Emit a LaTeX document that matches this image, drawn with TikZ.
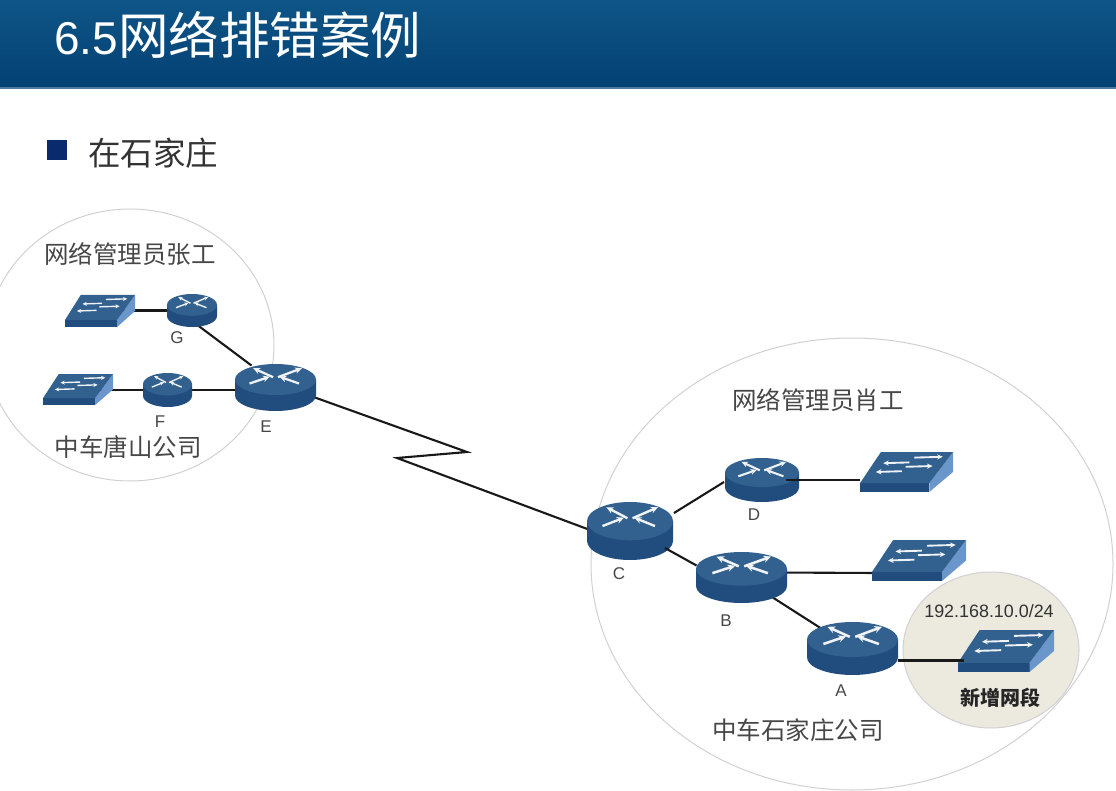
\documentclass[tikz,border=0pt]{standalone}
\usepackage{fontspec}
\setmainfont{Liberation Sans}
\newfontfamily\cjk{Noto Sans CJK SC}
\usetikzlibrary{calc,arrows.meta}
\pgfdeclarelayer{back}
\pgfdeclarelayer{icons}
\pgfsetlayers{back,icons,main}
\definecolor{bodyblue}{HTML}{214D7E}
\definecolor{topblue}{HTML}{33618F}
\definecolor{sideblue}{HTML}{6A96CC}
\definecolor{barblue}{HTML}{034073}
\definecolor{barlight}{HTML}{0F5587}
\definecolor{beige}{HTML}{ECE9DF}
\definecolor{bulletblue}{HTML}{0A2A6E}
\tikzset{
  iconbox/.style={inner sep=0pt,outer sep=0pt,draw=none,fill=none},
  wire/.style={draw=black!90,line width=2.1pt},
  zone/.style={draw=black!18,line width=1pt},
  glyph/.style={white!92!topblue,-{Stealth[length=0pt 3 0,width=0pt 2.8 0]}},
  lbl/.style={text=black!72,inner sep=0pt},
  letter/.style={text=black!72,inner sep=0pt,font=\fontsize{17}{19}\selectfont},
}
% name, x, y, width, height
\newcommand{\routericon}[5]{%
  \node[iconbox,minimum width=#4pt,minimum height=#5pt] (#1) at (#2,#3) {};
  \begin{pgfonlayer}{icons}
  \begin{scope}[shift={(#1.center)},x=#4pt/2,y=-#5pt/2]
    \fill[bodyblue] (-1,-.34) -- (-1,.34) arc[start angle=180,end angle=0,x radius=1,y radius=.66] -- (1,-.34) -- cycle;
    \fill[topblue] (0,-.34) ellipse[x radius=1,y radius=.66];
    \draw[glyph,line width=#4pt/36] (-.06,-.44) -- (-.55,-.82);
    \draw[glyph,line width=#4pt/36] (.06,-.44) -- (.65,-.82);
    \draw[glyph,line width=#4pt/36] (-.64,-.17) -- (-.14,-.46);
    \draw[glyph,line width=#4pt/36] (.58,-.17) -- (.1,-.46);
  \end{scope}
  \end{pgfonlayer}
}
\newcommand{\switchicon}[5]{%
  \node[iconbox,minimum width=#4pt,minimum height=#5pt] (#1) at (#2,#3) {};
  \begin{pgfonlayer}{icons}
  \begin{scope}[shift={(#1.center)},x=#4pt/2,y=-#5pt/2]
    \fill[bodyblue] (-1,.56) -- (.49,.56) -- (.49,1) -- (-1,1) -- cycle;
    \fill[sideblue] (.49,.56) -- (1,-1) -- (1,0) -- (.49,1) -- cycle;
    \fill[topblue] (-1,.56) -- (-.55,-1) -- (1,-1) -- (.49,.56) -- cycle;
    \draw[glyph,line width=#4pt/50] (.06,-.48) -- (-.5,-.44);
    \draw[glyph,line width=#4pt/50] (.17,-.72) -- (.78,-.76);
    \draw[glyph,line width=#4pt/50] (-.1,-.04) -- (-.66,0);
    \draw[glyph,line width=#4pt/50] (-.02,-.26) -- (.56,-.3);
  \end{scope}
  \end{pgfonlayer}
}
\begin{document}
\begin{tikzpicture}[x=1pt,y=-1pt]
\useasboundingbox (0,0) rectangle (1116,791);
\begin{pgfonlayer}{back}
\fill[white] (0,0) rectangle (1116,791);
% header
\shade[top color=barlight,bottom color=barblue] (0,0) rectangle (1116,88);
\fill[barblue!70!white] (0,87.5) rectangle (1116,89);
% zones
\draw[zone] (130,345) ellipse[x radius=144,y radius=136];
\draw[zone] (852,564) ellipse[x radius=261,y radius=226];
\draw[zone,fill=beige] (991,650) ellipse[x radius=88,y radius=78];
\end{pgfonlayer}
\node[anchor=west,inner sep=0pt,text=white] (title) at (54,35) {\fontsize{46}{50}\selectfont 6.5{\cjk\fontsize{50.5}{50}\selectfont 网络排错案例}};
\fill[bulletblue] (47,140) rectangle (67,160);
\node[anchor=west,inner sep=0pt,text=black!80] (topic) at (88,153) {\cjk\fontsize{32.5}{36}\selectfont 在石家庄};
% devices
\routericon{E}{275.5}{387.5}{81}{47}
\routericon{F}{167.5}{390}{49}{34}
\routericon{G}{192}{310.5}{50}{33}
\switchicon{swG}{100}{311}{70}{32}
\switchicon{swF}{78}{389.5}{70}{31}
\routericon{C}{630}{531}{86}{58}
\routericon{D}{762}{480}{74}{44}
\routericon{B}{741.5}{577.5}{91}{51}
\routericon{A}{852.5}{648.5}{91}{53}
\switchicon{swD}{906.5}{472}{93}{40}
\switchicon{swB}{919}{560.5}{94}{41}
\switchicon{swA}{1006}{651}{96}{42}
% links
\coordinate (z1) at (467,452);
\coordinate (z2) at (397,458);
\begin{pgfonlayer}{back}
\draw[wire] (swG.center |- G.center) -- (G.center);
\draw[wire] (swF.center |- F.center) -- (F.center) -- (F.center -| E.center);
\draw[wire] ($(G.center)+(6,15)$) -- ($(E.center)+(-24,-22)$);
\draw[wire] ($(E.center)+(38,9.5)$) -- (z1) -- (z2) -- ($(C.center)+(-40,-1)$);
\draw[wire] ($(C.center)+(44,-18)$) -- ($(D.center)+(-38,2)$);
\draw[wire] ($(B.center)+(30,-5)$) -- ($(swB.west)+(6,12.5)$);
\draw[wire] (B.center) -- (A.center);
\end{pgfonlayer}
\draw[wire] ($(D.center)+(24,0)$) -- (swD.west |- D.center);
\draw[wire] ($(C.center)+(35,17)$) -- ($(B.center)+(-45,-12)$);
\draw[wire] ($(A.center)+(45,12)$) -- ($(swA.west)+(6,9.5)$);
% text
\node[lbl] (t1) at (130,254) {\cjk\fontsize{24.5}{28}\selectfont 网络管理员张工};
\node[lbl] (t2) at (128,447) {\cjk\fontsize{24.5}{28}\selectfont 中车唐山公司};
\node[lbl] (t3) at (818,400) {\cjk\fontsize{24.5}{28}\selectfont 网络管理员肖工};
\node[lbl] (t4) at (798,730) {\cjk\fontsize{24.5}{28}\selectfont 中车石家庄公司};
\node[lbl,text=black!85] (t5) at (1000,698) {\cjk\bfseries\fontsize{20}{24}\selectfont 新增网段};
\node[lbl,text=black!80] (t6) at (989,611) {\fontsize{17.9}{20}\selectfont 192.168.10.0/24};
\node[letter] (lG) at (177,338) {G};
\node[letter] (lF) at (160,422) {F};
\node[letter] (lE) at (266,427) {E};
\node[letter] (lD) at (754,515) {D};
\node[letter] (lC) at (619,574) {C};
\node[letter] (lB) at (726,621) {B};
\node[letter] (lA) at (841,691) {A};
\end{tikzpicture}
\end{document}
